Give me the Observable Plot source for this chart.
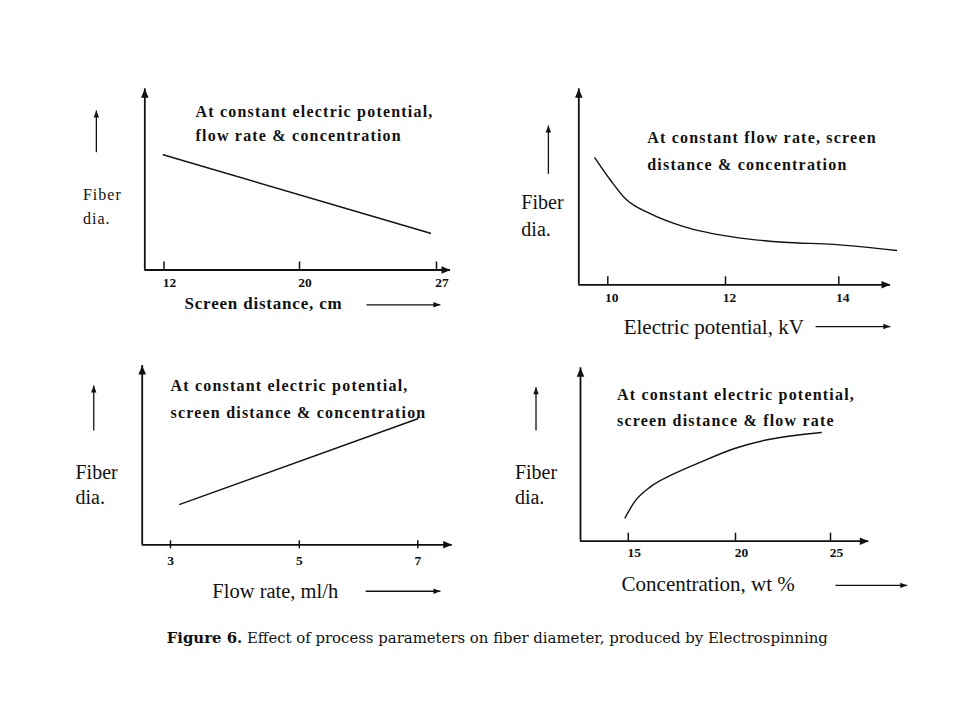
<!DOCTYPE html>
<html>
<head>
<meta charset="utf-8">
<script src="https://cdn.jsdelivr.net/npm/d3@7"></script>
<script src="https://cdn.jsdelivr.net/npm/@observablehq/plot@0.6"></script>
<style>
html, body { margin: 0; padding: 0; background: #fff; }
#fig { position: relative; width: 960px; height: 720px; overflow: hidden; background: #fff; }
.panel { position: absolute; }
.panel svg { display: block; overflow: visible; }
g[aria-description="note"] { letter-spacing: 1.2px; }
g[aria-description="xlabel-bold"] { letter-spacing: 0.8px; }
g[aria-description="ylabel-small"] { letter-spacing: 1px; }
#caption { position: absolute; left: 166.7px; top: 630.5px; font-family: "DejaVu Serif", serif; font-size: 14.9px; line-height: 1; color: #111; white-space: nowrap; }
</style>
</head>
<body>
<div id="fig"></div>
<script>
// ---------- data (fiber diameter in arbitrary units 0-100) ----------
const screenTicks = [12, 20, 27];
const screenDistance = [11.95, 26.69];
const screenFiberDia = [63.6, 20.3];

const voltageTicks = [10, 12, 14];
const voltage = [9.78, 10.05, 10.30, 10.73, 11.29, 12.15, 13.03, 13.91, 15.02];
const voltageFiberDia = [64.8, 53.2, 43.9, 36.2, 29.7, 24.3, 21.7, 20.6, 17.5];

const flowTicks = [3, 5, 7];
const flowRate = [3.145, 7.0];
const flowFiberDia = [22.5, 70.3];

const concTicks = [15, 20, 25];
const concentration = [14.85, 15.28, 16.05, 17.14, 18.38, 19.92, 21.67, 23.42, 24.51];
const concFiberDia = [13.5, 22.5, 31.5, 38.9, 45.6, 53.3, 58.5, 61.4, 62.7];

const notes = [
  "At constant electric potential,\nflow rate & concentration",
  "At constant flow rate, screen\ndistance & concentration",
  "At constant electric potential,\nscreen distance & concentration",
  "At constant electric potential,\nscreen distance & flow rate"
];
const xLabels = ["Screen distance, cm", "Electric potential, kV", "Flow rate, ml/h", "Concentration, wt %"];
const yLabel = "Fiber\ndia.";
const captionBold = "Figure 6.";
const captionText = " Effect of process parameters on fiber diameter, produced by Electrospinning";

// ---------- layout (positions of panels, annotations in data units) ----------
const layouts = [
  { left: 0, top: 0, width: 480, height: 340, margin: [88.3, 30, 70.5, 144.3],
    domain: [10.87, 12, 20, 27, 27.72], range: [144.3, 163.5, 299, 436, 450],
    tickUp: 8, tickDown: 0, tickPad: 7.5, tickDx: 5.5, curve: "linear",
    note: {x: 13.86, y: 93.4, lh: 1.46},
    yLab: {x: 7.23, y: 48.0, size: 16, lh: 1.49, weight: "normal", cls: "ylabel-small"},
    yArrow: {x: 8.02, y1: 65.0, y2: 88.0},
    xLab: {x: 13.21, y: -14.7, size: 17, weight: "bold", cls: "xlabel-bold"},
    xArrow: {x1: 23.42, x2: 27.20, y: -19.2} },
  { left: 480, top: 0, width: 480, height: 340, margin: [88.3, 70, 55.7, 98.3],
    domain: [9.507, 10, 12, 14, 14.913], range: [98.3, 127.3, 245, 358.3, 410],
    tickUp: 8, tickDown: 0, tickPad: 7.8, tickDx: 4, curve: "monotone-x",
    note: {x: 10.67, y: 82.0, lh: 1.67},
    yLab: {x: 8.53, y: 48.6, size: 20, lh: 1.35, weight: "normal", cls: "ylabel"},
    yArrow: {x: 8.99, y1: 56.6, y2: 81.3},
    xLab: {x: 10.27, y: -17.4, size: 21, weight: "normal", cls: "xlabel"},
    xArrow: {x1: 13.59, x2: 14.91, y: -21.3} },
  { left: 0, top: 340, width: 480, height: 280, margin: [25, 28.3, 75.7, 141.7],
    domain: [2.559, 3, 5, 7, 7.578], range: [141.7, 170, 298.8, 417.3, 451.7],
    tickUp: 4, tickDown: 4, tickPad: 11.1, tickDx: 0, curve: "linear",
    note: {x: 3.0, y: 97.0, lh: 1.73},
    yLab: {x: 1.519, y: 46.6, size: 20, lh: 1.25, weight: "normal", cls: "ylabel"},
    yArrow: {x: 1.804, y1: 63.7, y2: 88.8},
    xLab: {x: 3.65, y: -21.3, size: 20.5, weight: "normal", cls: "xlabel"},
    xArrow: {x1: 6.12, x2: 7.38, y: -25.9} },
  { left: 480, top: 340, width: 480, height: 280, margin: [27.3, 91.7, 79.3, 100],
    domain: [12.804, 15, 20, 25, 27.016], range: [100, 147.8, 255, 350, 388.3],
    tickUp: 8, tickDown: 0, tickPad: 6.4, tickDx: 6, curve: "monotone-x",
    note: {x: 14.48, y: 92.5, lh: 1.66},
    yLab: {x: 9.79, y: 46.1, size: 20, lh: 1.25, weight: "normal", cls: "ylabel"},
    yArrow: {x: 10.76, y1: 63.8, y2: 88.8},
    xLab: {x: 14.69, y: -20.2, size: 21, weight: "normal", cls: "xlabel"},
    xArrow: {x1: 25.26, x2: 29.04, y: -25.5} }
];

const series = [
  [screenDistance, screenFiberDia, screenTicks],
  [voltage, voltageFiberDia, voltageTicks],
  [flowRate, flowFiberDia, flowTicks],
  [concentration, concFiberDia, concTicks]
];

const ink = "#111";

function panel(i) {
  const L = layouts[i];
  const [xs, ys, ticks] = series[i];
  const x0 = L.domain[0], x1 = L.domain[L.domain.length - 1];
  const rows = xs.map((x, j) => ({x, y: ys[j]}));
  const head = {shape: "spike", anchor: "end", fill: ink, stroke: "none"};
  const marks = [
    Plot.ruleY([0], {stroke: ink, strokeWidth: 1.8}),
    Plot.ruleX([x0], {stroke: ink, strokeWidth: 1.8}),
    Plot.vector([0], {x: x1, y: 0, rotate: 90, length: 9, r: 3.8, ...head}),
    Plot.vector([0], {x: x0, y: 100, rotate: 0, length: 9, r: 3.8, ...head})
  ];
  if (L.tickUp) marks.push(Plot.axisX({ticks, tickSize: -L.tickUp, fill: "none", stroke: ink, strokeWidth: 1.5, label: null}));
  if (L.tickDown) marks.push(Plot.axisX({ticks, tickSize: L.tickDown, fill: "none", stroke: ink, strokeWidth: 1.5, label: null}));
  marks.push(Plot.axisX({ticks, tickFormat: d => String(d), tickSize: 0, tickPadding: L.tickPad, dx: L.tickDx,
    fill: ink, fontSize: 13.5, fontWeight: "bold", label: null}));
  marks.push(Plot.line(rows, {x: "x", y: "y", curve: L.curve, stroke: ink, strokeWidth: 1.4}));
  marks.push(Plot.text([notes[i]], {x: L.note.x, y: L.note.y, text: d => d, textAnchor: "start", lineAnchor: "top",
    lineHeight: L.note.lh, fontSize: 16, fontWeight: "bold", fill: ink, ariaDescription: "note"}));
  marks.push(Plot.text([yLabel], {x: L.yLab.x, y: L.yLab.y, text: d => d, textAnchor: "start", lineAnchor: "top",
    lineHeight: L.yLab.lh, fontSize: L.yLab.size, fontWeight: L.yLab.weight, fill: ink, ariaDescription: L.yLab.cls}));
  marks.push(Plot.link([0], {x1: L.yArrow.x, y1: L.yArrow.y1, x2: L.yArrow.x, y2: L.yArrow.y2, stroke: ink, strokeWidth: 1.3}));
  marks.push(Plot.vector([0], {x: L.yArrow.x, y: L.yArrow.y2, rotate: 0, length: 7, r: 2.7, ...head}));
  marks.push(Plot.text([xLabels[i]], {x: L.xLab.x, y: L.xLab.y, text: d => d, textAnchor: "start", lineAnchor: "top",
    fontSize: L.xLab.size, fontWeight: L.xLab.weight, fill: ink, ariaDescription: L.xLab.cls}));
  marks.push(Plot.link([0], {x1: L.xArrow.x1, y1: L.xArrow.y, x2: L.xArrow.x2, y2: L.xArrow.y, stroke: ink, strokeWidth: 1.3}));
  marks.push(Plot.vector([0], {x: L.xArrow.x2, y: L.xArrow.y, rotate: 90, length: 7, r: 2.7, ...head}));

  return Plot.plot({
    width: L.width, height: L.height,
    marginTop: L.margin[0], marginRight: L.margin[1], marginBottom: L.margin[2], marginLeft: L.margin[3],
    style: {fontFamily: "'Liberation Serif', 'Times New Roman', serif", background: "transparent", color: ink, overflow: "visible"},
    x: {type: "linear", domain: L.domain, range: L.range, label: null},
    y: {domain: [0, 100], axis: null, label: null},
    marks
  });
}

const fig = document.getElementById("fig");
layouts.forEach((L, i) => {
  const div = document.createElement("div");
  div.className = "panel";
  div.style.left = L.left + "px";
  div.style.top = L.top + "px";
  div.appendChild(panel(i));
  fig.appendChild(div);
});

const cap = document.createElement("div");
cap.id = "caption";
const b = document.createElement("b");
b.textContent = captionBold;
cap.appendChild(b);
cap.appendChild(document.createTextNode(captionText));
fig.appendChild(cap);
</script>
</body>
</html>
